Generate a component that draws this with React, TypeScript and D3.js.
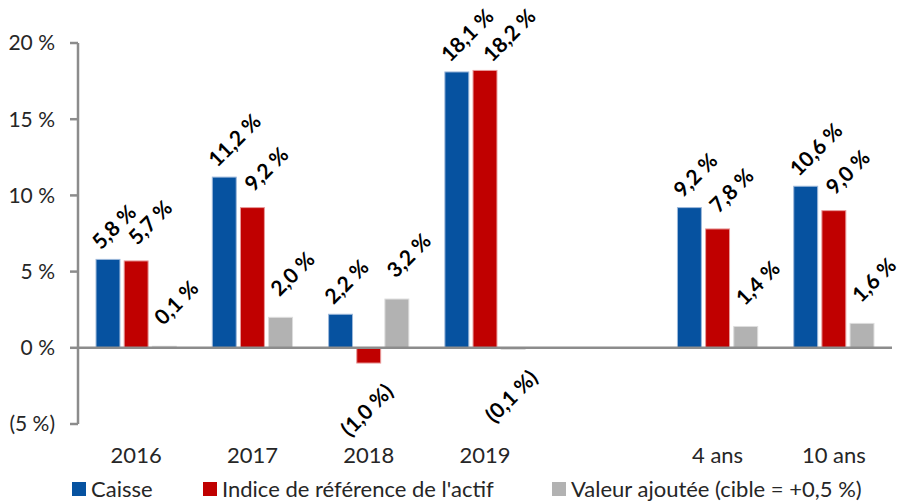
import React from "react";
import * as d3 from "d3";

const categories = ["2016", "2017", "2018", "2019", "", "4 ans", "10 ans"];
const seriesNames = ["Caisse", "Indice de référence de l'actif", "Valeur ajoutée (cible = +0,5 %)"];
const caisse = [5.8, 11.2, 2.2, 18.1, null, 9.2, 10.6];
const indice = [5.7, 9.2, -1.0, 18.2, null, 7.8, 9.0];
const valeurAjoutee = [0.1, 2.0, 3.2, -0.1, null, 1.4, 1.6];
const yTicks = [-5, 0, 5, 10, 15, 20];

const seriesValues = [caisse, indice, valeurAjoutee];
const colors = ["#0652A0", "#C00000", "#B2B2B2"];
const edgeColors = ["#9DB8DA", "#E89A9A", "#DDDDDD"];
// per-series label offsets (styling)
const posDx = [-7, 1, -1];
const posGap = [9, 15, 20];
const minLabelBaseY = 63;

const W = 904;
const H = 503;
const left = 78;
const right = 892;
const FONT = "Lato, 'Open Sans', sans-serif";

function fmt(v: number) {
  const s = Math.abs(v).toFixed(1).replace(".", ",") + "\u202F%";
  return v < 0 ? "(" + s + ")" : s;
}
function fmtTick(v: number) {
  const s = Math.abs(v) + " %";
  return v < 0 ? "(" + s + ")" : s;
}

export default function App() {
  const y = d3.scaleLinear().domain([-5, 20]).range([424, 43]);
  const x0 = d3
    .scaleBand<string>()
    .domain(categories.map((c, i) => c + "#" + i))
    .range([left, right])
    .paddingInner(0.31)
    .paddingOuter(0.155);
  const x1 = d3
    .scaleBand<string>()
    .domain(seriesNames)
    .range([0, x0.bandwidth()])
    .paddingInner(0.15);

  const bars: React.ReactNode[] = [];
  const labels: React.ReactNode[] = [];
  categories.forEach((c, ci) => {
    const gx = x0(c + "#" + ci)!;
    seriesValues.forEach((vals, si) => {
      const v = vals[ci];
      if (v === null || v === undefined) return;
      const bx = gx + x1(seriesNames[si])!;
      const bw = x1.bandwidth();
      const yTop = y(Math.max(0, v));
      const yBot = y(Math.min(0, v));
      const h = Math.max(1, yBot - yTop);
      bars.push(
        <rect
          key={`b${ci}-${si}`}
          x={bx}
          y={v >= 0 ? yBot - h : yTop}
          width={bw}
          height={h}
          fill={colors[si]}
          stroke={edgeColors[si]}
          strokeWidth={1}
        />
      );
      const cx = bx + bw / 2;
      if (v >= 0) {
        let tx = cx + posDx[si];
        let ty = yTop - posGap[si];
        if (ty < minLabelBaseY) {
          tx += (minLabelBaseY - ty) * 0.8;
          ty = minLabelBaseY;
        }
        labels.push(
          <text
            key={`l${ci}-${si}`}
            transform={`translate(${tx},${ty}) rotate(-45)`}
            textAnchor="start"
            fontFamily={FONT}
            fontWeight={700}
            fontSize={21}
            fill="#000"
          >
            {fmt(v)}
          </text>
        );
      } else {
        const tx = cx + 14;
        const ty = yBot + 18;
        labels.push(
          <text
            key={`l${ci}-${si}`}
            transform={`translate(${tx},${ty}) rotate(-45)`}
            textAnchor="end"
            dominantBaseline="hanging"
            fontFamily={FONT}
            fontWeight={700}
            fontSize={21}
            fill="#000"
          >
            {fmt(v)}
          </text>
        );
      }
    });
  });

  const legendX = [72, 203, 552];

  return (
    <svg
      width={W}
      height={H}
      style={{ position: "absolute", left: 0, top: 0, background: "#fff" }}
    >
      <rect x={0} y={0} width={W} height={H} fill="#fff" />
      {bars}
      {/* y axis */}
      <line x1={left} x2={left} y1={y(20)} y2={y(-5)} stroke="#8C8C8C" strokeWidth={2.5} />
      {yTicks.map((t) => (
        <g key={t}>
          <line x1={left - 8} x2={left} y1={y(t)} y2={y(t)} stroke="#8C8C8C" strokeWidth={2.5} />
          <text
            x={55}
            y={y(t)}
            dy="0.35em"
            textAnchor="end"
            fontFamily={FONT}
            fontSize={21}
            fill="#262626"
          >
            {fmtTick(t)}
          </text>
        </g>
      ))}
      {/* zero line */}
      <line x1={left} x2={right} y1={y(0)} y2={y(0)} stroke="#8C8C8C" strokeWidth={2.5} />
      {categories.map((c, i) =>
        c ? (
          <text
            key={`c${i}`}
            x={x0(c + "#" + i)! + x0.bandwidth() / 2}
            y={463}
            textAnchor="middle"
            fontFamily={FONT}
            fontSize={22}
            fill="#262626"
          >
            {c}
          </text>
        ) : null
      )}
      {labels}
      {seriesNames.map((s, i) => (
        <g key={`lg${i}`}>
          <rect x={legendX[i]} y={482} width={14} height={14} fill={colors[i]} />
          <text x={legendX[i] + 19} y={497} fontFamily={FONT} fontSize={22} fill="#262626">
            {s}
          </text>
        </g>
      ))}
    </svg>
  );
}
